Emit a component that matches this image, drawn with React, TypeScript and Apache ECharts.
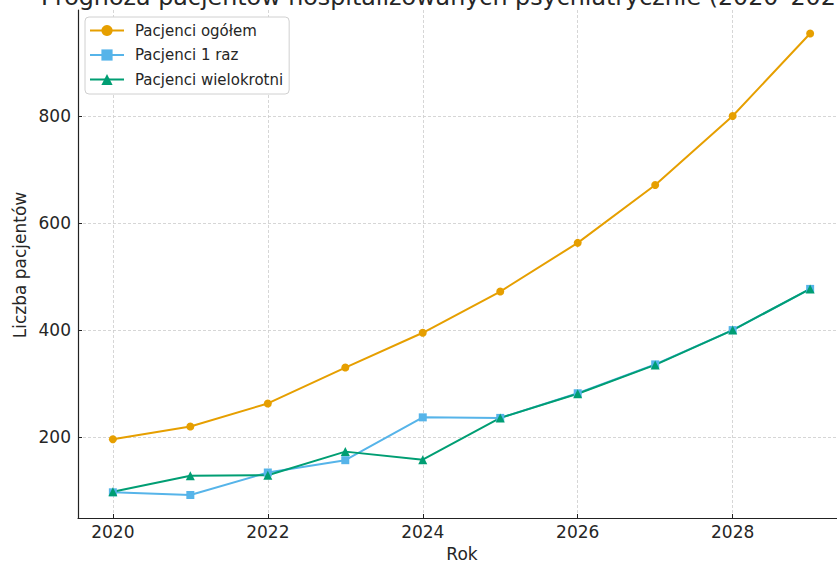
import React, { useEffect, useRef } from "react";
import * as echarts from "echarts";

const years = [2020, 2021, 2022, 2023, 2024, 2025, 2026, 2027, 2028, 2029];
const totalPatients = [196, 220, 263, 330, 395, 472, 563, 671, 800, 954];
const oncePatients = [97, 92, 134, 157, 237, 236, 282, 336, 400, 477];
const repeatPatients = [98, 128, 129, 173, 158, 236, 281, 335, 400, 477];
const xTicks = [2020, 2022, 2024, 2026, 2028];
const yTicks = [200, 400, 600, 800];

const titleText = "Prognoza pacjentów hospitalizowanych psychiatrycznie (2020–2029)";
const xName = "Rok";
const yName = "Liczba pacjentów";
const seriesNames = ["Pacjenci ogółem", "Pacjenci 1 raz", "Pacjenci wielokrotni"];

const FONT = "DejaVu Sans";
const TXT = "#262626";

export default function App() {
  const ref = useRef<HTMLDivElement>(null);
  useEffect(() => {
    if (!ref.current) return;
    const chart = echarts.init(ref.current, null, { renderer: "svg" });
    const pair = (vals: number[]) => years.map((y, i) => [y, vals[i]]);
    const mk = (name: string, color: string, symbol: string, vals: number[], size: number) => ({
      name,
      type: "line",
      data: pair(vals),
      symbol,
      symbolSize: size,
      showSymbol: true,
      lineStyle: { color, width: 2 },
      itemStyle: { color, borderWidth: 0 },
      emphasis: { disabled: true },
    });
    chart.setOption({
      animation: false,
      textStyle: { fontFamily: FONT },
      grid: { left: 78, right: 0, top: 10, bottom: 45, containLabel: false },
      xAxis: {
        type: "value",
        min: 2019.55,
        max: 2029.45,
        axisLine: { show: true, lineStyle: { color: "#222", width: 1.2 } },
        axisTick: { show: true, inside: true, length: 4, customValues: xTicks, lineStyle: { color: "#222", width: 1 } },
        axisLabel: {
          customValues: xTicks,
          fontSize: 17,
          color: TXT,
          fontFamily: FONT,
          margin: 5,
          formatter: (v: number) => String(v),
        },
        splitLine: { show: true, lineStyle: { color: "#cccccc", width: 0.8, type: [3, 2] } },
      },
      yAxis: {
        type: "value",
        min: 49,
        max: 998,
        axisLine: { show: true, lineStyle: { color: "#222", width: 1.2 } },
        axisTick: { show: true, inside: true, length: 4, customValues: yTicks, lineStyle: { color: "#222", width: 1 } },
        axisLabel: {
          customValues: yTicks,
          fontSize: 17,
          color: TXT,
          fontFamily: FONT,
          margin: 7,
          formatter: (v: number) => String(v),
        },
        splitLine: { show: true, lineStyle: { color: "#cccccc", width: 0.8, type: [3, 2] } },
      },
      legend: {
        orient: "vertical",
        left: 85,
        top: 17,
        padding: [6, 6, 7, 4],
        itemGap: 9.5,
        itemWidth: 34,
        itemHeight: 14,
        backgroundColor: "#ffffff",
        borderColor: "#d0d0d0",
        borderWidth: 1,
        borderRadius: 4,
        textStyle: { fontSize: 15, color: TXT, fontFamily: FONT, padding: [0, 0, 0, 6], lineHeight: 14 },
        data: seriesNames,
      },
      graphic: [
        {
          type: "text",
          x: 41,
          y: 9,
          style: { text: titleText, fontSize: 23.8, fill: TXT, fontFamily: FONT, textAlign: "left", textVerticalAlign: "bottom" },
        },
        {
          type: "text",
          x: 462,
          y: 554,
          style: { text: xName, fontSize: 17, fill: TXT, fontFamily: FONT, textAlign: "center", textVerticalAlign: "middle" },
        },
        {
          type: "text",
          x: 20,
          y: 265,
          rotation: Math.PI / 2,
          style: { text: yName, fontSize: 17, fill: TXT, fontFamily: FONT, textAlign: "center", textVerticalAlign: "middle" },
        },
      ],
      series: [
        mk(seriesNames[0], "#E69F00", "circle", totalPatients, 8),
        mk(seriesNames[1], "#56B4E9", "rect", oncePatients, 8),
        mk(seriesNames[2], "#009E73", "triangle", repeatPatients, 9),
      ],
    });
    return () => chart.dispose();
  }, []);
  return (
    <div style={{ position: "absolute", left: 0, top: 0, width: 837, height: 563, overflow: "hidden" }}>
      <div ref={ref} style={{ width: 845, height: 563 }} />
    </div>
  );
}
